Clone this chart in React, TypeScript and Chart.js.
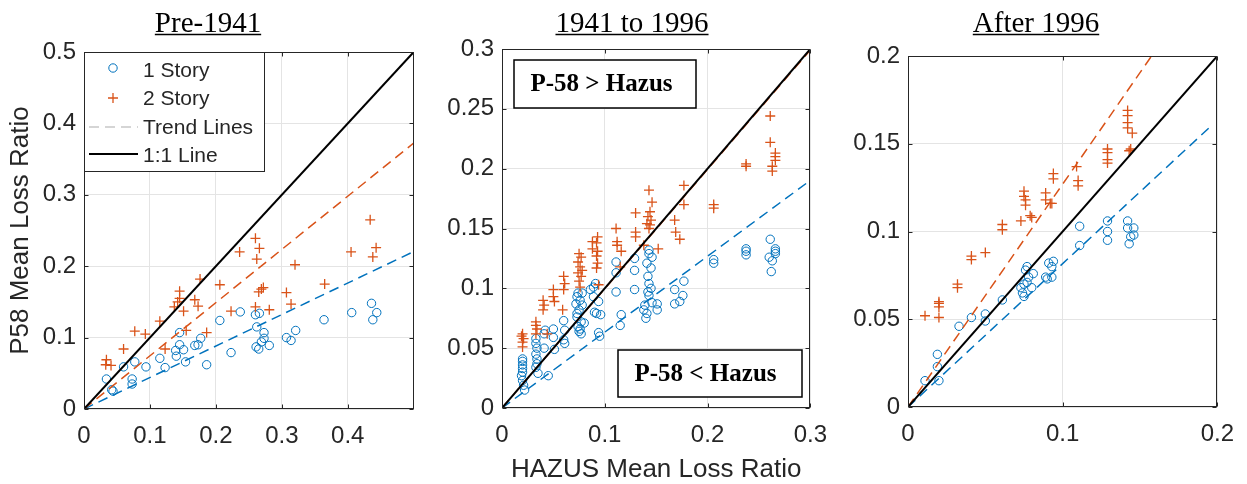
import React, { useEffect, useRef } from 'react';
import { Chart, registerables } from 'chart.js';

Chart.register(...registerables);

// ---------------- DATA ----------------
const panelTitles = ['Pre-1941', '1941 to 1996', 'After 1996'];
const yAxisTitle = 'P58 Mean Loss Ratio';
const xAxisTitle = 'HAZUS Mean Loss Ratio';
const seriesNames = ['1 Story', '2 Story', 'Trend Lines', '1:1 Line'];
const regionLabels = ['P-58 > Hazus', 'P-58 < Hazus'];

// axis ranges and tick labels
const pre1941XTicks = [0, 0.1, 0.2, 0.3, 0.4];
const pre1941YTicks = [0, 0.1, 0.2, 0.3, 0.4, 0.5];
const midXTicks = [0, 0.1, 0.2, 0.3];
const midYTicks = [0, 0.05, 0.1, 0.15, 0.2, 0.25, 0.3];
const postXTicks = [0, 0.1, 0.2];
const postYTicks = [0, 0.05, 0.1, 0.15, 0.2];
const axisMax = [0.5, 0.3, 0.2];

// trend lines: [slope, last x]
const pre1941TrendOne = [0.441, 0.5];
const pre1941TrendTwo = [0.745, 0.5];
const midTrendOne = [0.634, 0.297];
const midTrendTwo = [0.997, 0.3];
const postTrendOne = [0.817, 0.197];
const postTrendTwo = [1.27, 0.1575];

// Pre-1941 [HAZUS, P58]
const pre1941One: [number, number][] = [
  [0.034, 0.042], [0.044, 0.025], [0.042, 0.027], [0.060, 0.059], [0.073, 0.042],
  [0.073, 0.035], [0.077, 0.066], [0.094, 0.059], [0.115, 0.071], [0.123, 0.058],
  [0.139, 0.082], [0.140, 0.074], [0.145, 0.107], [0.145, 0.090], [0.151, 0.083],
  [0.154, 0.066], [0.168, 0.089], [0.173, 0.090], [0.177, 0.099], [0.186, 0.062],
  [0.206, 0.124], [0.223, 0.079], [0.237, 0.136], [0.260, 0.132], [0.266, 0.134],
  [0.262, 0.115], [0.261, 0.087], [0.265, 0.084], [0.269, 0.094], [0.273, 0.107],
  [0.273, 0.099], [0.281, 0.089], [0.307, 0.100], [0.314, 0.096], [0.321, 0.110],
  [0.364, 0.125], [0.406, 0.135], [0.436, 0.148], [0.438, 0.125], [0.444, 0.135],
];
const pre1941Two: [number, number][] = [
  [0.034, 0.069], [0.033, 0.062], [0.041, 0.061], [0.060, 0.084], [0.077, 0.109],
  [0.093, 0.105], [0.115, 0.123], [0.123, 0.084], [0.137, 0.143], [0.142, 0.150],
  [0.145, 0.165], [0.145, 0.155], [0.151, 0.137], [0.155, 0.110], [0.168, 0.153],
  [0.173, 0.144], [0.176, 0.182], [0.186, 0.107], [0.206, 0.174], [0.223, 0.137],
  [0.236, 0.220], [0.260, 0.239], [0.266, 0.225], [0.262, 0.210], [0.260, 0.143],
  [0.265, 0.164], [0.269, 0.168], [0.272, 0.170], [0.281, 0.139], [0.307, 0.163],
  [0.314, 0.147], [0.320, 0.202], [0.365, 0.175], [0.405, 0.220], [0.434, 0.265],
  [0.443, 0.226], [0.438, 0.213],
];

// 1941 to 1996
const midOne: [number, number][] = [
  [0.020, 0.041], [0.020, 0.039], [0.020, 0.036], [0.020, 0.033], [0.020, 0.030],
  [0.019, 0.027], [0.020, 0.023], [0.021, 0.019], [0.022, 0.015],
  [0.033, 0.058], [0.033, 0.054], [0.034, 0.050], [0.033, 0.045], [0.034, 0.041],
  [0.034, 0.037], [0.033, 0.034], [0.035, 0.029],
  [0.042, 0.065], [0.041, 0.062], [0.041, 0.050], [0.045, 0.027],
  [0.050, 0.066], [0.050, 0.059], [0.051, 0.049],
  [0.060, 0.073], [0.061, 0.065], [0.060, 0.057], [0.061, 0.054],
  [0.074, 0.096], [0.078, 0.096], [0.073, 0.093], [0.076, 0.090], [0.072, 0.087],
  [0.078, 0.086], [0.075, 0.082], [0.073, 0.079], [0.073, 0.076], [0.077, 0.072],
  [0.080, 0.071], [0.074, 0.068], [0.076, 0.066], [0.077, 0.062], [0.075, 0.064],
  [0.091, 0.104], [0.086, 0.099], [0.089, 0.101], [0.089, 0.093], [0.094, 0.089],
  [0.092, 0.079], [0.096, 0.078], [0.090, 0.080], [0.094, 0.063], [0.095, 0.060],
  [0.111, 0.122], [0.111, 0.113], [0.111, 0.097], [0.116, 0.078], [0.115, 0.069],
  [0.129, 0.125], [0.129, 0.115], [0.129, 0.099],
  [0.143, 0.132], [0.143, 0.129], [0.146, 0.126], [0.141, 0.121], [0.145, 0.117],
  [0.142, 0.110], [0.143, 0.104], [0.145, 0.100], [0.142, 0.097], [0.143, 0.094],
  [0.139, 0.086], [0.138, 0.082], [0.141, 0.079], [0.140, 0.075], [0.146, 0.088],
  [0.151, 0.087], [0.151, 0.082],
  [0.168, 0.099], [0.168, 0.087], [0.173, 0.089], [0.176, 0.094], [0.177, 0.106],
  [0.206, 0.124], [0.206, 0.121],
  [0.2375, 0.133], [0.2375, 0.131], [0.2375, 0.128],
  [0.261, 0.141], [0.260, 0.126], [0.263, 0.123], [0.262, 0.114],
  [0.266, 0.133], [0.266, 0.131], [0.266, 0.129],
];
const midTwo: [number, number][] = [
  [0.020, 0.062], [0.019, 0.060], [0.021, 0.058], [0.020, 0.055], [0.020, 0.051],
  [0.033, 0.072], [0.033, 0.069], [0.034, 0.066], [0.033, 0.062],
  [0.040, 0.090], [0.041, 0.086], [0.040, 0.082], [0.044, 0.062],
  [0.050, 0.099], [0.050, 0.093], [0.051, 0.089],
  [0.060, 0.110], [0.061, 0.104], [0.060, 0.099], [0.059, 0.082],
  [0.075, 0.129], [0.077, 0.126], [0.074, 0.122], [0.076, 0.118], [0.078, 0.115],
  [0.074, 0.113], [0.077, 0.110], [0.075, 0.106], [0.076, 0.101],
  [0.093, 0.143], [0.092, 0.138], [0.088, 0.139], [0.093, 0.131], [0.088, 0.133],
  [0.092, 0.127], [0.093, 0.121], [0.092, 0.117], [0.094, 0.103],
  [0.111, 0.150], [0.112, 0.139], [0.112, 0.136], [0.116, 0.131], [0.115, 0.118],
  [0.130, 0.163], [0.130, 0.147], [0.130, 0.143],
  [0.143, 0.182], [0.146, 0.172], [0.144, 0.164], [0.142, 0.160], [0.145, 0.157],
  [0.141, 0.154], [0.144, 0.153], [0.143, 0.150], [0.138, 0.136],
  [0.152, 0.133], [0.168, 0.157], [0.169, 0.147], [0.173, 0.141],
  [0.177, 0.186], [0.177, 0.170], [0.206, 0.170], [0.206, 0.167],
  [0.2375, 0.204], [0.2375, 0.202],
  [0.261, 0.244], [0.261, 0.222], [0.266, 0.213], [0.266, 0.210], [0.266, 0.207],
  [0.263, 0.202], [0.263, 0.198],
];

// After 1996
const postOne: [number, number][] = [
  [0.011, 0.015], [0.019, 0.030], [0.019, 0.023], [0.020, 0.015], [0.033, 0.046],
  [0.041, 0.051], [0.050, 0.053], [0.050, 0.049], [0.061, 0.061], [0.073, 0.068],
  [0.074, 0.065], [0.075, 0.063], [0.076, 0.078], [0.077, 0.080], [0.078, 0.074],
  [0.077, 0.071], [0.075, 0.070], [0.080, 0.068], [0.081, 0.076], [0.089, 0.074],
  [0.090, 0.073], [0.091, 0.082], [0.093, 0.074], [0.094, 0.083], [0.093, 0.080],
  [0.111, 0.103], [0.111, 0.092], [0.129, 0.106], [0.129, 0.100], [0.129, 0.095],
  [0.142, 0.106], [0.142, 0.102], [0.143, 0.093], [0.146, 0.102], [0.146, 0.098],
  [0.144, 0.097],
];
const postTwo: [number, number][] = [
  [0.011, 0.052], [0.020, 0.060], [0.020, 0.059], [0.020, 0.057], [0.020, 0.051],
  [0.032, 0.070], [0.032, 0.068], [0.041, 0.086], [0.041, 0.084], [0.050, 0.088],
  [0.061, 0.104], [0.061, 0.101], [0.073, 0.106], [0.075, 0.123], [0.075, 0.120],
  [0.076, 0.118], [0.076, 0.115], [0.079, 0.109], [0.080, 0.108], [0.089, 0.122],
  [0.089, 0.118], [0.092, 0.116], [0.093, 0.116], [0.094, 0.133], [0.094, 0.130],
  [0.109, 0.137], [0.110, 0.129], [0.110, 0.126], [0.129, 0.147], [0.129, 0.145],
  [0.129, 0.141], [0.129, 0.139], [0.142, 0.169], [0.142, 0.166], [0.142, 0.162],
  [0.142, 0.159], [0.145, 0.156], [0.144, 0.147], [0.143, 0.146],
];

// ---------------- STYLE ----------------
const BLUE = '#0072BD';
const ORANGE = '#D95319';
const AXIS = '#262626';
const GRID = '#e4e4e4';
const SANS = '"Liberation Sans", Arial, Helvetica, sans-serif';
const SERIF = '"Liberation Serif", "Times New Roman", serif';
const H = 484;

type PanelCfg = {
  x: number; w: number;
  area: { left: number; top: number; right: number; bottom: number };
  titleCx: number;
  title: string;
  max: number;
  xTicks: number[]; yTicks: number[];
  one: [number, number][]; two: [number, number][];
  trendOne: number[]; trendTwo: number[];
  yTitle: boolean; xTitle: boolean; legend: boolean; regions: boolean;
};

const panels: PanelCfg[] = [
  { x: 0, w: 420, area: { left: 84, top: 52, right: 414, bottom: 409 }, titleCx: 208, title: panelTitles[0], max: axisMax[0],
    xTicks: pre1941XTicks, yTicks: pre1941YTicks, one: pre1941One, two: pre1941Two, trendOne: pre1941TrendOne, trendTwo: pre1941TrendTwo,
    yTitle: true, xTitle: false, legend: true, regions: false },
  { x: 420, w: 420, area: { left: 82, top: 49, right: 399, bottom: 408 }, titleCx: 212, title: panelTitles[1], max: axisMax[1],
    xTicks: midXTicks, yTicks: midYTicks, one: midOne, two: midTwo, trendOne: midTrendOne, trendTwo: midTrendTwo,
    yTitle: false, xTitle: true, legend: false, regions: true },
  { x: 840, w: 407, area: { left: 68, top: 56, right: 379, bottom: 407 }, titleCx: 196, title: panelTitles[2], max: axisMax[2],
    xTicks: postXTicks, yTicks: postYTicks, one: postOne, two: postTwo, trendOne: postTrendOne, trendTwo: postTrendTwo,
    yTitle: false, xTitle: false, legend: false, regions: false },
];

function drawCross(ctx: CanvasRenderingContext2D, x: number, y: number, r: number) {
  ctx.beginPath();
  ctx.moveTo(x - r, y); ctx.lineTo(x + r, y);
  ctx.moveTo(x, y - r); ctx.lineTo(x, y + r);
  ctx.stroke();
}

function makeDecor(cfg: PanelCfg) {
  return {
    id: 'decor',
    afterDraw(chart: any) {
      const ctx: CanvasRenderingContext2D = chart.ctx;
      const a = chart.chartArea;
      const xs = chart.scales.x;
      const ys = chart.scales.y;
      ctx.save();
      const L = Math.round(a.left) + 0.5, T = Math.round(a.top) + 0.5;
      const R = Math.round(a.right) - 0.5, B = Math.round(a.bottom) - 0.5;
      // inward tick marks
      ctx.strokeStyle = AXIS; ctx.lineWidth = 1;
      ctx.beginPath();
      cfg.xTicks.forEach((v) => {
        const p = Math.round(xs.getPixelForValue(v)) + 0.5;
        ctx.moveTo(p, B); ctx.lineTo(p, B - 4);
        ctx.moveTo(p, T); ctx.lineTo(p, T + 4);
      });
      cfg.yTicks.forEach((v) => {
        const p = Math.round(ys.getPixelForValue(v)) + 0.5;
        ctx.moveTo(L, p); ctx.lineTo(L + 4, p);
        ctx.moveTo(R, p); ctx.lineTo(R - 4, p);
      });
      ctx.stroke();
      // frame
      ctx.strokeRect(L, T, R - L, B - T);

      // title with underline
      ctx.font = `29px ${SERIF}`;
      ctx.fillStyle = '#000';
      ctx.textAlign = 'center';
      ctx.textBaseline = 'alphabetic';
      ctx.fillText(cfg.title, cfg.titleCx, 32);
      const tw = ctx.measureText(cfg.title).width;
      ctx.strokeStyle = '#000'; ctx.lineWidth = 1.5;
      ctx.beginPath();
      ctx.moveTo(cfg.titleCx - tw / 2, 34.5); ctx.lineTo(cfg.titleCx + tw / 2, 34.5);
      ctx.stroke();

      if (cfg.legend) {
        const lx = Math.round(a.left), ty = Math.round(a.top);
        ctx.fillStyle = '#fff';
        ctx.fillRect(lx, ty, 180, 119);
        ctx.strokeStyle = AXIS; ctx.lineWidth = 1;
        ctx.strokeRect(lx + 0.5, ty + 0.5, 180, 119);
        // markers
        ctx.strokeStyle = BLUE; ctx.lineWidth = 1;
        ctx.beginPath(); ctx.arc(lx + 29, ty + 16, 4.2, 0, Math.PI * 2); ctx.stroke();
        ctx.strokeStyle = ORANGE; ctx.lineWidth = 1.3;
        drawCross(ctx, lx + 29, ty + 46, 5);
        ctx.strokeStyle = '#c8c8c8'; ctx.lineWidth = 1.5; ctx.setLineDash([10, 6]);
        ctx.beginPath(); ctx.moveTo(lx + 5, ty + 75); ctx.lineTo(lx + 54, ty + 75); ctx.stroke();
        ctx.setLineDash([]);
        ctx.strokeStyle = '#000'; ctx.lineWidth = 2;
        ctx.beginPath(); ctx.moveTo(lx + 5, ty + 102); ctx.lineTo(lx + 54, ty + 102); ctx.stroke();
        ctx.fillStyle = AXIS; ctx.font = `21px ${SANS}`;
        ctx.textAlign = 'left'; ctx.textBaseline = 'middle';
        const rows = [19, 47.5, 76, 104];
        seriesNames.forEach((s, i) => ctx.fillText(s, lx + 59, ty + rows[i]));
      }

      if (cfg.regions) {
        const lx = Math.round(a.left), ty = Math.round(a.top);
        const boxes = [
          { x0: 12, y0: 11, x1: 194, y1: 59, tx: 99.5, t: regionLabels[0] },
          { x0: 116, y0: 301, x1: 300, y1: 348, tx: 203.5, t: regionLabels[1] },
        ];
        boxes.forEach((b) => {
          ctx.fillStyle = '#fff';
          ctx.fillRect(lx + b.x0, ty + b.y0, b.x1 - b.x0, b.y1 - b.y0);
          ctx.strokeStyle = '#000'; ctx.lineWidth = 1.5;
          ctx.strokeRect(lx + b.x0, ty + b.y0, b.x1 - b.x0, b.y1 - b.y0);
          ctx.fillStyle = '#000'; ctx.font = `bold 25px ${SERIF}`;
          ctx.textAlign = 'center'; ctx.textBaseline = 'middle';
          ctx.fillText(b.t, lx + b.tx, ty + (b.y0 + b.y1) / 2 + 1);
        });
      }
      ctx.restore();
    },
  };
}

function trendPoints(t: number[]) {
  return [{ x: 0, y: 0 }, { x: t[1], y: t[0] * t[1] }];
}

function Panel({ cfg }: { cfg: PanelCfg }) {
  const ref = useRef<HTMLCanvasElement>(null);
  useEffect(() => {
    const tickFont = { family: SANS, size: 24 };
    const chart = new Chart(ref.current as HTMLCanvasElement, {
      type: 'scatter',
      data: {
        datasets: [
          { type: 'line', label: seriesNames[3], data: [{ x: 0, y: 0 }, { x: cfg.max, y: cfg.max }],
            borderColor: '#000', borderWidth: 2, pointRadius: 0, order: 0 } as any,
          { type: 'line', label: seriesNames[2] + ' 2', data: trendPoints(cfg.trendTwo),
            borderColor: ORANGE, borderWidth: 1.5, borderDash: [10, 6], pointRadius: 0, order: 1 } as any,
          { type: 'line', label: seriesNames[2] + ' 1', data: trendPoints(cfg.trendOne),
            borderColor: BLUE, borderWidth: 1.5, borderDash: [10, 6], pointRadius: 0, order: 2 } as any,
          { label: seriesNames[1], data: cfg.two.map(([x, y]) => ({ x, y })), pointStyle: 'cross',
            pointRadius: 5, borderColor: ORANGE, backgroundColor: ORANGE, borderWidth: 1.3, order: 3 },
          { label: seriesNames[0], data: cfg.one.map(([x, y]) => ({ x, y })), pointStyle: 'circle',
            pointRadius: 4.2, borderColor: BLUE, backgroundColor: 'rgba(0,0,0,0)', borderWidth: 1, order: 4 },
        ],
      },
      options: {
        responsive: false,
        animation: false,
        events: [],
        layout: { padding: { left: 0, top: cfg.area.top, right: cfg.w - cfg.area.right, bottom: 0 } },
        plugins: { legend: { display: false }, title: { display: false }, tooltip: { enabled: false } },
        scales: {
          x: {
            type: 'linear', min: 0, max: cfg.max,
            afterBuildTicks: (s: any) => { s.ticks = cfg.xTicks.map((v) => ({ value: v })); },
            afterFit: (s: any) => { s.height = H - cfg.area.bottom; },
            grid: { color: GRID, drawTicks: false, lineWidth: 1 },
            border: { display: false },
            ticks: { padding: 13, color: AXIS, font: tickFont, maxRotation: 0, autoSkip: false,
              callback: (v: any) => String(v) },
            title: { display: cfg.xTitle, text: xAxisTitle, color: AXIS,
              font: { family: SANS, size: 26, lineHeight: 1 }, padding: { top: 0, bottom: 1 } },
          },
          y: {
            type: 'linear', min: 0, max: cfg.max,
            afterBuildTicks: (s: any) => { s.ticks = cfg.yTicks.map((v) => ({ value: v })); },
            afterFit: (s: any) => { s.width = cfg.area.left; },
            grid: { color: GRID, drawTicks: false, lineWidth: 1 },
            border: { display: false },
            ticks: { padding: 8, color: AXIS, font: tickFont, autoSkip: false,
              callback: (v: any) => String(v) },
            title: { display: cfg.yTitle, text: yAxisTitle, color: AXIS,
              font: { family: SANS, size: 26, lineHeight: 1 }, padding: { top: 8, bottom: 0 } },
          },
        },
      },
      plugins: [makeDecor(cfg)],
    } as any);
    return () => chart.destroy();
  }, [cfg]);
  return (
    <canvas ref={ref} width={cfg.w} height={H}
      style={{ position: 'absolute', left: cfg.x, top: 0, width: cfg.w, height: H }} />
  );
}

export default function App() {
  return (
    <div style={{ position: 'absolute', left: 0, top: 0, width: 1247, height: H, background: '#fff', overflow: 'hidden' }}>
      {panels.map((p, i) => <Panel key={i} cfg={p} />)}
    </div>
  );
}
